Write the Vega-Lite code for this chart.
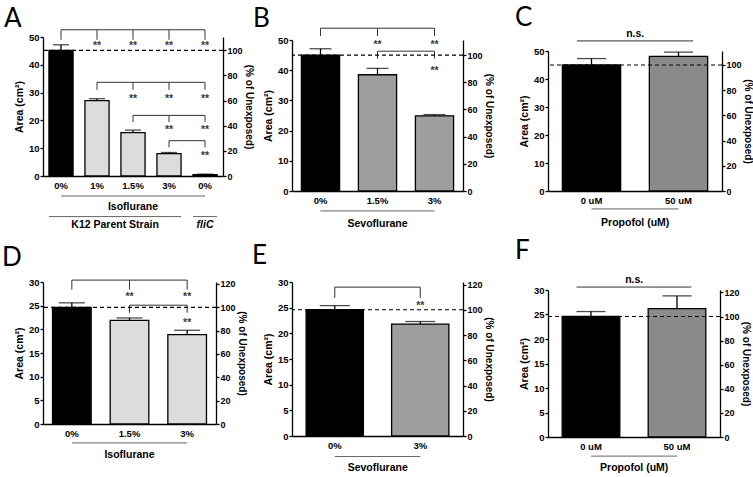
{
"$schema": "https://vega.github.io/schema/vega-lite/v6.json",
"background": "white",
"padding": {"left": 2, "top": 5, "right": 0, "bottom": 0},
"config": {
  "view": {"stroke": null},
  "font": "Liberation Sans",
  "axis": {"domainColor": "#000", "domainWidth": 1.3, "tickColor": "#000", "tickWidth": 1.3, "tickSize": 3, "labelColor": "#000", "labelFontSize": 9.5, "labelFontWeight": "bold", "titleFontSize": 10.5, "titleFontWeight": "bold", "titleColor": "#000", "grid": false, "labelPadding": 1, "titlePadding": 4},
  "axisRight": {"titlePadding": 1, "labelFontSize": 9, "titleFontSize": 10},
  "title": {"font": "Lato", "fontSize": 26, "fontWeight": "normal", "color": "#000", "anchor": "start", "frame": "group"}
},
"datasets": {
  "pA": [
    {"kind": "bar", "cond": "0%", "agent": "Control", "y": 45.2, "y2": 47.2},
    {"kind": "bar", "cond": "1%", "agent": "Isoflurane", "y": 27.1, "y2": 27.8},
    {"kind": "bar", "cond": "1.5%", "agent": "Isoflurane", "y": 15.6, "y2": 16.5},
    {"kind": "bar", "cond": "3%", "agent": "Isoflurane", "y": 8.05, "y2": 8.45},
    {"kind": "bar", "cond": "0% fliC", "agent": "fliC", "y": 0.5, "y2": 0.65},
    {"kind": "hline", "cond": "0%", "cond2": "0% fliC", "y": 52.6},
    {"kind": "hline", "cond": "1%", "cond2": "0% fliC", "y": 33.7},
    {"kind": "hline", "cond": "1.5%", "cond2": "0% fliC", "y": 21.8},
    {"kind": "hline", "cond": "3%", "cond2": "0% fliC", "y": 12.7},
    {"kind": "drop", "cond": "0%", "y": 52.6, "y2": 49.0},
    {"kind": "drop", "cond": "1%", "y": 52.6, "y2": 49.0},
    {"kind": "drop", "cond": "1.5%", "y": 52.6, "y2": 49.0},
    {"kind": "drop", "cond": "3%", "y": 52.6, "y2": 49.0},
    {"kind": "drop", "cond": "0% fliC", "y": 52.6, "y2": 49.0},
    {"kind": "drop", "cond": "1%", "y": 33.7, "y2": 31.0},
    {"kind": "drop", "cond": "1.5%", "y": 33.7, "y2": 31.0},
    {"kind": "drop", "cond": "3%", "y": 33.7, "y2": 31.0},
    {"kind": "drop", "cond": "0% fliC", "y": 33.7, "y2": 31.0},
    {"kind": "drop", "cond": "1.5%", "y": 21.8, "y2": 19.4},
    {"kind": "drop", "cond": "3%", "y": 21.8, "y2": 19.4},
    {"kind": "drop", "cond": "0% fliC", "y": 21.8, "y2": 19.4},
    {"kind": "drop", "cond": "3%", "y": 12.7, "y2": 10.3},
    {"kind": "drop", "cond": "0% fliC", "y": 12.7, "y2": 10.3},
    {"kind": "star", "cond": "1%", "y": 47.8},
    {"kind": "star", "cond": "1.5%", "y": 47.8},
    {"kind": "star", "cond": "3%", "y": 47.8},
    {"kind": "star", "cond": "0% fliC", "y": 47.8},
    {"kind": "star", "cond": "1.5%", "y": 28.8},
    {"kind": "star", "cond": "3%", "y": 28.8},
    {"kind": "star", "cond": "0% fliC", "y": 28.8},
    {"kind": "star", "cond": "3%", "y": 17.8},
    {"kind": "star", "cond": "0% fliC", "y": 17.8},
    {"kind": "star", "cond": "0% fliC", "y": 8.4},
    {"kind": "ul", "cond": "0%", "cond2": "0% fliC", "y": -7.2},
    {"kind": "ule", "cond": "0%", "cond2": "3%", "y": -14.6},
    {"kind": "ule", "cond": "0% fliC", "cond2": "0% fliC", "y": -14.6},
    {"kind": "lab", "cond": "1.5%", "y": -11.2, "text": "Isoflurane"},
    {"kind": "labmid", "cond": "1%", "y": -17.8, "text": "K12 Parent Strain"},
    {"kind": "labi", "cond": "0% fliC", "y": -17.8, "text": "fliC"}
  ],
  "pB": [
    {"kind": "bar", "cond": "0%", "agent": "Control", "y": 45.0, "y2": 47.1},
    {"kind": "bar", "cond": "1.5%", "agent": "Sevoflurane", "y": 38.5, "y2": 40.6},
    {"kind": "bar", "cond": "3%", "agent": "Sevoflurane", "y": 24.9, "y2": 25.3},
    {"kind": "hline", "cond": "0%", "cond2": "3%", "y": 53.9},
    {"kind": "hline", "cond": "1.5%", "cond2": "3%", "y": 46.3},
    {"kind": "drop", "cond": "0%", "y": 53.9, "y2": 51.3},
    {"kind": "drop", "cond": "1.5%", "y": 53.9, "y2": 51.3},
    {"kind": "drop", "cond": "3%", "y": 53.9, "y2": 51.3},
    {"kind": "drop", "cond": "1.5%", "y": 46.3, "y2": 43.8},
    {"kind": "drop", "cond": "3%", "y": 46.3, "y2": 43.8},
    {"kind": "star", "cond": "1.5%", "y": 49.4},
    {"kind": "star", "cond": "3%", "y": 49.4},
    {"kind": "star", "cond": "3%", "y": 40.6},
    {"kind": "ul", "cond": "0%", "cond2": "3%", "y": -6.6},
    {"kind": "lab", "cond": "1.5%", "y": -10.8, "text": "Sevoflurane"}
  ],
  "pC": [
    {"kind": "bar", "cond": "0 uM", "agent": "Control", "y": 45.0, "y2": 47.3},
    {"kind": "bar", "cond": "50 uM", "agent": "Propofol", "y": 48.1, "y2": 49.6},
    {"kind": "ns", "cond": "0 uM", "cond2": "50 uM", "y": 53.6},
    {"kind": "labmid", "cond": "0 uM", "y": 55.9, "text": "n.s."},
    {"kind": "ul", "cond": "0 uM", "cond2": "50 uM", "y": -6.4},
    {"kind": "labmid", "cond": "0 uM", "y": -11.6, "text": "Propofol (uM)"}
  ],
  "pD": [
    {"kind": "bar", "cond": "0%", "agent": "Control", "y": 24.65, "y2": 25.6},
    {"kind": "bar", "cond": "1.5%", "agent": "Isoflurane", "y": 21.9, "y2": 22.4},
    {"kind": "bar", "cond": "3%", "agent": "Isoflurane", "y": 18.9, "y2": 19.8},
    {"kind": "hline", "cond": "0%", "cond2": "3%", "y": 30.4},
    {"kind": "hline", "cond": "1.5%", "cond2": "3%", "y": 25.1},
    {"kind": "drop", "cond": "0%", "y": 30.4, "y2": 28.4},
    {"kind": "drop", "cond": "1.5%", "y": 30.4, "y2": 28.4},
    {"kind": "drop", "cond": "3%", "y": 30.4, "y2": 28.4},
    {"kind": "drop", "cond": "1.5%", "y": 25.1, "y2": 23.5},
    {"kind": "drop", "cond": "3%", "y": 25.1, "y2": 23.5},
    {"kind": "star", "cond": "1.5%", "y": 27.5},
    {"kind": "star", "cond": "3%", "y": 27.5},
    {"kind": "star", "cond": "3%", "y": 22.0},
    {"kind": "ul", "cond": "0%", "cond2": "3%", "y": -4.0},
    {"kind": "lab", "cond": "1.5%", "y": -6.5, "text": "Isoflurane"}
  ],
  "pE": [
    {"kind": "bar", "cond": "0%", "agent": "Control", "y": 24.6, "y2": 25.4},
    {"kind": "bar", "cond": "3%", "agent": "Sevoflurane", "y": 21.8, "y2": 22.3},
    {"kind": "hline", "cond": "0%", "cond2": "3%", "y": 29.0},
    {"kind": "drop", "cond": "0%", "y": 29.0, "y2": 26.9},
    {"kind": "drop", "cond": "3%", "y": 29.0, "y2": 26.9},
    {"kind": "star", "cond": "3%", "y": 25.9},
    {"kind": "ul", "cond": "0%", "cond2": "3%", "y": -4.0},
    {"kind": "labmid", "cond": "0%", "y": -6.2, "text": "Sevoflurane"}
  ],
  "pF": [
    {"kind": "bar", "cond": "0 uM", "agent": "Control", "y": 24.6, "y2": 25.6},
    {"kind": "bar", "cond": "50 uM", "agent": "Propofol", "y": 26.2, "y2": 28.8},
    {"kind": "ns", "cond": "0 uM", "cond2": "50 uM", "y": 30.6},
    {"kind": "labmid", "cond": "0 uM", "y": 32.0, "text": "n.s."},
    {"kind": "ul", "cond": "0 uM", "cond2": "50 uM", "y": -3.9},
    {"kind": "labmid", "cond": "0 uM", "y": -6.3, "text": "Propofol (uM)"}
  ]
},
"columns": 5,
"align": "each",
"bounds": "flush",
"spacing": {"row": 91, "column": 0},
"concat": [
  {
    "width": 180, "height": 139,
    "title": {"text": "A", "dx": -39, "offset": -3},
    "data": {"name": "pA"},
    "layer": [
      {
        "encoding": {
          "x": {"field": "cond", "type": "nominal", "scale": {"domain": ["0%", "1%", "1.5%", "3%", "0% fliC"], "paddingInner": 0.33, "paddingOuter": 0.165}, "axis": {"title": null, "ticks": false, "labelPadding": 4, "labelAngle": 0, "labelExpr": "split(datum.value, ' ')[0]"}},
          "y": {"field": "y", "type": "quantitative", "scale": {"domain": [0, 50], "nice": false}, "axis": {"title": "Area (cm²)", "values": [0, 10, 20, 30, 40, 50]}}
        },
        "layer": [
          {"transform": [{"filter": "datum.kind === 'bar'"}], "mark": {"type": "bar", "stroke": "#000", "strokeWidth": 1.3}, "encoding": {"color": {"field": "agent", "type": "nominal", "scale": {"domain": ["Control", "Isoflurane", "Sevoflurane", "Propofol", "fliC"], "range": ["#000000", "#dcdcdc", "#9e9e9e", "#8a8a8a", "#ffffff"]}, "legend": null}}},
          {"transform": [{"filter": "datum.kind === 'bar'"}], "mark": {"type": "rule", "color": "#000", "strokeWidth": 1.3}, "encoding": {"y2": {"field": "y2"}}},
          {"transform": [{"filter": "datum.kind === 'bar'"}], "mark": {"type": "tick", "color": "#000", "thickness": 1.3, "size": 16}, "encoding": {"y": {"field": "y2", "type": "quantitative"}}},
          {"transform": [{"filter": "datum.kind === 'hline'"}], "mark": {"type": "rule", "color": "#333", "strokeWidth": 1}, "encoding": {"x": {"field": "cond", "type": "nominal", "bandPosition": 0.5}, "x2": {"field": "cond2", "bandPosition": 0.5}}},
          {"transform": [{"filter": "datum.kind === 'drop'"}], "mark": {"type": "rule", "color": "#333", "strokeWidth": 1}, "encoding": {"y2": {"field": "y2"}}},
          {"transform": [{"filter": "datum.kind === 'star'"}], "mark": {"type": "text", "text": "**", "fontSize": 10.5, "fontWeight": "bold", "color": "#3a3a3a", "dy": 3}},
          {"transform": [{"filter": "datum.kind === 'ul'"}], "mark": {"type": "rule", "color": "#666", "strokeWidth": 1}, "encoding": {"x": {"field": "cond", "type": "nominal", "bandPosition": 0.5}, "x2": {"field": "cond2", "bandPosition": 0.5}}},
          {"transform": [{"filter": "datum.kind === 'ule'"}], "mark": {"type": "rule", "color": "#666", "strokeWidth": 1}, "encoding": {"x": {"field": "cond", "type": "nominal", "bandPosition": 0}, "x2": {"field": "cond2", "bandPosition": 1}}},
          {"transform": [{"filter": "datum.kind === 'lab'"}], "mark": {"type": "text", "fontSize": 10.5, "fontWeight": "bold", "color": "#000", "baseline": "middle"}, "encoding": {"text": {"field": "text"}}},
          {"transform": [{"filter": "datum.kind === 'labmid'"}], "mark": {"type": "text", "fontSize": 10.5, "fontWeight": "bold", "color": "#000", "baseline": "middle"}, "encoding": {"text": {"field": "text"}, "x": {"field": "cond", "type": "nominal", "bandPosition": 1.25}}},
          {"transform": [{"filter": "datum.kind === 'labi'"}], "mark": {"type": "text", "fontSize": 10.5, "fontWeight": "bold", "fontStyle": "italic", "color": "#000", "baseline": "middle"}, "encoding": {"text": {"field": "text"}}}
        ]
      },
      {
        "data": {"values": [{"pct": 100}]},
        "mark": {"type": "rule", "color": "#000", "strokeWidth": 1.2, "strokeDash": [4, 3]},
        "encoding": {"y": {"field": "pct", "type": "quantitative", "scale": {"domain": [0, 110.6], "nice": false}, "axis": {"orient": "right", "title": "(% of Unexposed)", "values": [0, 20, 40, 60, 80, 100]}}}
      }
    ],
    "resolve": {"scale": {"y": "independent"}}
  },
  {"width": 69, "height": 1, "data": {"values": []}, "mark": {"type": "point", "opacity": 0}},
  {
    "width": 171, "height": 154,
    "title": {"text": "B", "dx": -39, "offset": -4},
    "data": {"name": "pB"},
    "layer": [
      {
        "encoding": {
          "x": {"field": "cond", "type": "nominal", "scale": {"domain": ["0%", "1.5%", "3%"], "paddingInner": 0.33, "paddingOuter": 0.165}, "axis": {"title": null, "ticks": false, "labelPadding": 4, "labelAngle": 0}},
          "y": {"field": "y", "type": "quantitative", "scale": {"domain": [0, 50], "nice": false, "range": [154, 3]}, "axis": {"title": "Area (cm²)", "values": [0, 10, 20, 30, 40, 50]}}
        },
        "layer": [
          {"transform": [{"filter": "datum.kind === 'bar'"}], "mark": {"type": "bar", "stroke": "#000", "strokeWidth": 1.3}, "encoding": {"color": {"field": "agent", "type": "nominal", "legend": null}}},
          {"transform": [{"filter": "datum.kind === 'bar'"}], "mark": {"type": "rule", "color": "#000", "strokeWidth": 1.3}, "encoding": {"y2": {"field": "y2"}}},
          {"transform": [{"filter": "datum.kind === 'bar'"}], "mark": {"type": "tick", "color": "#000", "thickness": 1.3, "size": 22}, "encoding": {"y": {"field": "y2", "type": "quantitative"}}},
          {"transform": [{"filter": "datum.kind === 'hline'"}], "mark": {"type": "rule", "color": "#333", "strokeWidth": 1}, "encoding": {"x": {"field": "cond", "type": "nominal", "bandPosition": 0.5}, "x2": {"field": "cond2", "bandPosition": 0.5}}},
          {"transform": [{"filter": "datum.kind === 'drop'"}], "mark": {"type": "rule", "color": "#333", "strokeWidth": 1}, "encoding": {"y2": {"field": "y2"}}},
          {"transform": [{"filter": "datum.kind === 'star'"}], "mark": {"type": "text", "text": "**", "fontSize": 10.5, "fontWeight": "bold", "color": "#3a3a3a", "dy": 3}},
          {"transform": [{"filter": "datum.kind === 'ul'"}], "mark": {"type": "rule", "color": "#666", "strokeWidth": 1}, "encoding": {"x": {"field": "cond", "type": "nominal", "bandPosition": 0.5}, "x2": {"field": "cond2", "bandPosition": 0.5}}},
          {"transform": [{"filter": "datum.kind === 'lab'"}], "mark": {"type": "text", "fontSize": 10.5, "fontWeight": "bold", "color": "#000", "baseline": "middle"}, "encoding": {"text": {"field": "text"}}}
        ]
      },
      {
        "data": {"values": [{"pct": 100}]},
        "mark": {"type": "rule", "color": "#000", "strokeWidth": 1.2, "strokeDash": [4, 3]},
        "encoding": {"y": {"field": "pct", "type": "quantitative", "scale": {"domain": [0, 111.1], "nice": false, "range": [154, 3]}, "axis": {"orient": "right", "title": "(% of Unexposed)", "values": [0, 20, 40, 60, 80, 100]}}}
      }
    ],
    "resolve": {"scale": {"y": "independent"}}
  },
  {"width": 85, "height": 1, "data": {"values": []}, "mark": {"type": "point", "opacity": 0}},
  {
    "width": 174, "height": 154,
    "title": {"text": "C", "dx": -33, "offset": -2},
    "data": {"name": "pC"},
    "layer": [
      {
        "encoding": {
          "x": {"field": "cond", "type": "nominal", "scale": {"domain": ["0 uM", "50 uM"], "paddingInner": 0.33, "paddingOuter": 0.165}, "axis": {"title": null, "ticks": false, "labelPadding": 4, "labelAngle": 0}},
          "y": {"field": "y", "type": "quantitative", "scale": {"domain": [0, 50], "nice": false, "range": [154, 14]}, "axis": {"title": "Area (cm²)", "values": [0, 10, 20, 30, 40, 50]}}
        },
        "layer": [
          {"transform": [{"filter": "datum.kind === 'bar'"}], "mark": {"type": "bar", "stroke": "#000", "strokeWidth": 1.3}, "encoding": {"color": {"field": "agent", "type": "nominal", "legend": null}}},
          {"transform": [{"filter": "datum.kind === 'bar'"}], "mark": {"type": "rule", "color": "#000", "strokeWidth": 1.3}, "encoding": {"y2": {"field": "y2"}}},
          {"transform": [{"filter": "datum.kind === 'bar'"}], "mark": {"type": "tick", "color": "#000", "thickness": 1.3, "size": 29}, "encoding": {"y": {"field": "y2", "type": "quantitative"}}},
          {"transform": [{"filter": "datum.kind === 'ns'"}], "mark": {"type": "rule", "color": "#333", "strokeWidth": 1}, "encoding": {"x": {"field": "cond", "type": "nominal", "bandPosition": 0.25}, "x2": {"field": "cond2", "bandPosition": 0.75}}},
          {"transform": [{"filter": "datum.kind === 'ul'"}], "mark": {"type": "rule", "color": "#666", "strokeWidth": 1}, "encoding": {"x": {"field": "cond", "type": "nominal", "bandPosition": 0.5}, "x2": {"field": "cond2", "bandPosition": 0.5}}},
          {"transform": [{"filter": "datum.kind === 'labmid'"}], "mark": {"type": "text", "fontSize": 10.5, "fontWeight": "bold", "color": "#000", "baseline": "middle"}, "encoding": {"text": {"field": "text"}, "x": {"field": "cond", "type": "nominal", "bandPosition": 1.25}}}
        ]
      },
      {
        "data": {"values": [{"pct": 100}]},
        "mark": {"type": "rule", "color": "#000", "strokeWidth": 1.2, "strokeDash": [4, 3]},
        "encoding": {"y": {"field": "pct", "type": "quantitative", "scale": {"domain": [0, 111.1], "nice": false, "range": [154, 14]}, "axis": {"orient": "right", "title": "(% of Unexposed)", "values": [0, 20, 40, 60, 80, 100]}}}
      }
    ],
    "resolve": {"scale": {"y": "independent"}}
  },
  {
    "width": 173, "height": 142,
    "title": {"text": "D", "dx": -41, "offset": 6},
    "data": {"name": "pD"},
    "layer": [
      {
        "encoding": {
          "x": {"field": "cond", "type": "nominal", "scale": {"domain": ["0%", "1.5%", "3%"], "paddingInner": 0.33, "paddingOuter": 0.165}, "axis": {"title": null, "ticks": false, "labelPadding": 4, "labelAngle": 0}},
          "y": {"field": "y", "type": "quantitative", "scale": {"domain": [0, 30], "nice": false}, "axis": {"title": "Area (cm²)", "values": [0, 5, 10, 15, 20, 25, 30]}}
        },
        "layer": [
          {"transform": [{"filter": "datum.kind === 'bar'"}], "mark": {"type": "bar", "stroke": "#000", "strokeWidth": 1.3}, "encoding": {"color": {"field": "agent", "type": "nominal", "legend": null}}},
          {"transform": [{"filter": "datum.kind === 'bar'"}], "mark": {"type": "rule", "color": "#000", "strokeWidth": 1.3}, "encoding": {"y2": {"field": "y2"}}},
          {"transform": [{"filter": "datum.kind === 'bar'"}], "mark": {"type": "tick", "color": "#000", "thickness": 1.3, "size": 26}, "encoding": {"y": {"field": "y2", "type": "quantitative"}}},
          {"transform": [{"filter": "datum.kind === 'hline'"}], "mark": {"type": "rule", "color": "#333", "strokeWidth": 1}, "encoding": {"x": {"field": "cond", "type": "nominal", "bandPosition": 0.5}, "x2": {"field": "cond2", "bandPosition": 0.5}}},
          {"transform": [{"filter": "datum.kind === 'drop'"}], "mark": {"type": "rule", "color": "#333", "strokeWidth": 1}, "encoding": {"y2": {"field": "y2"}}},
          {"transform": [{"filter": "datum.kind === 'star'"}], "mark": {"type": "text", "text": "**", "fontSize": 10.5, "fontWeight": "bold", "color": "#3a3a3a", "dy": 3}},
          {"transform": [{"filter": "datum.kind === 'ul'"}], "mark": {"type": "rule", "color": "#666", "strokeWidth": 1}, "encoding": {"x": {"field": "cond", "type": "nominal", "bandPosition": 0.5}, "x2": {"field": "cond2", "bandPosition": 0.5}}},
          {"transform": [{"filter": "datum.kind === 'lab'"}], "mark": {"type": "text", "fontSize": 10.5, "fontWeight": "bold", "color": "#000", "baseline": "middle"}, "encoding": {"text": {"field": "text"}}}
        ]
      },
      {
        "data": {"values": [{"pct": 100}]},
        "mark": {"type": "rule", "color": "#000", "strokeWidth": 1.2, "strokeDash": [4, 3]},
        "encoding": {"y": {"field": "pct", "type": "quantitative", "scale": {"domain": [0, 121.7], "nice": false}, "axis": {"orient": "right", "title": "(% of Unexposed)", "values": [0, 20, 40, 60, 80, 100, 120]}}}
      }
    ],
    "resolve": {"scale": {"y": "independent"}}
  },
  {"width": 69, "height": 1, "data": {"values": []}, "mark": {"type": "point", "opacity": 0}},
  {
    "width": 171, "height": 154,
    "title": {"text": "E", "dx": -40, "offset": 8},
    "data": {"name": "pE"},
    "layer": [
      {
        "encoding": {
          "x": {"field": "cond", "type": "nominal", "scale": {"domain": ["0%", "3%"], "paddingInner": 0.33, "paddingOuter": 0.165}, "axis": {"title": null, "ticks": false, "labelPadding": 4, "labelAngle": 0}},
          "y": {"field": "y", "type": "quantitative", "scale": {"domain": [0, 30], "nice": false}, "axis": {"title": "Area (cm²)", "values": [0, 5, 10, 15, 20, 25, 30]}}
        },
        "layer": [
          {"transform": [{"filter": "datum.kind === 'bar'"}], "mark": {"type": "bar", "stroke": "#000", "strokeWidth": 1.3}, "encoding": {"color": {"field": "agent", "type": "nominal", "legend": null}}},
          {"transform": [{"filter": "datum.kind === 'bar'"}], "mark": {"type": "rule", "color": "#000", "strokeWidth": 1.3}, "encoding": {"y2": {"field": "y2"}}},
          {"transform": [{"filter": "datum.kind === 'bar'"}], "mark": {"type": "tick", "color": "#000", "thickness": 1.3, "size": 30}, "encoding": {"y": {"field": "y2", "type": "quantitative"}}},
          {"transform": [{"filter": "datum.kind === 'hline'"}], "mark": {"type": "rule", "color": "#333", "strokeWidth": 1}, "encoding": {"x": {"field": "cond", "type": "nominal", "bandPosition": 0.5}, "x2": {"field": "cond2", "bandPosition": 0.5}}},
          {"transform": [{"filter": "datum.kind === 'drop'"}], "mark": {"type": "rule", "color": "#333", "strokeWidth": 1}, "encoding": {"y2": {"field": "y2"}}},
          {"transform": [{"filter": "datum.kind === 'star'"}], "mark": {"type": "text", "text": "**", "fontSize": 10.5, "fontWeight": "bold", "color": "#3a3a3a", "dy": 3}},
          {"transform": [{"filter": "datum.kind === 'ul'"}], "mark": {"type": "rule", "color": "#666", "strokeWidth": 1}, "encoding": {"x": {"field": "cond", "type": "nominal", "bandPosition": 0.5}, "x2": {"field": "cond2", "bandPosition": 0.5}}},
          {"transform": [{"filter": "datum.kind === 'labmid'"}], "mark": {"type": "text", "fontSize": 10.5, "fontWeight": "bold", "color": "#000", "baseline": "middle"}, "encoding": {"text": {"field": "text"}, "x": {"field": "cond", "type": "nominal", "bandPosition": 1.25}}}
        ]
      },
      {
        "data": {"values": [{"pct": 100}]},
        "mark": {"type": "rule", "color": "#000", "strokeWidth": 1.2, "strokeDash": [4, 3]},
        "encoding": {"y": {"field": "pct", "type": "quantitative", "scale": {"domain": [0, 122.0], "nice": false}, "axis": {"orient": "right", "title": "(% of Unexposed)", "values": [0, 20, 40, 60, 80, 100, 120]}}}
      }
    ],
    "resolve": {"scale": {"y": "independent"}}
  },
  {"width": 85, "height": 1, "data": {"values": []}, "mark": {"type": "point", "opacity": 0}},
  {
    "width": 172, "height": 155,
    "title": {"text": "F", "dx": -33, "offset": 11},
    "data": {"name": "pF"},
    "layer": [
      {
        "encoding": {
          "x": {"field": "cond", "type": "nominal", "scale": {"domain": ["0 uM", "50 uM"], "paddingInner": 0.33, "paddingOuter": 0.165}, "axis": {"title": null, "ticks": false, "labelPadding": 4, "labelAngle": 0}},
          "y": {"field": "y", "type": "quantitative", "scale": {"domain": [0, 30], "nice": false, "range": [155, 8]}, "axis": {"title": "Area (cm²)", "values": [0, 5, 10, 15, 20, 25, 30]}}
        },
        "layer": [
          {"transform": [{"filter": "datum.kind === 'bar'"}], "mark": {"type": "bar", "stroke": "#000", "strokeWidth": 1.3}, "encoding": {"color": {"field": "agent", "type": "nominal", "legend": null}}},
          {"transform": [{"filter": "datum.kind === 'bar'"}], "mark": {"type": "rule", "color": "#000", "strokeWidth": 1.3}, "encoding": {"y2": {"field": "y2"}}},
          {"transform": [{"filter": "datum.kind === 'bar'"}], "mark": {"type": "tick", "color": "#000", "thickness": 1.3, "size": 29}, "encoding": {"y": {"field": "y2", "type": "quantitative"}}},
          {"transform": [{"filter": "datum.kind === 'ns'"}], "mark": {"type": "rule", "color": "#333", "strokeWidth": 1}, "encoding": {"x": {"field": "cond", "type": "nominal", "bandPosition": 0.25}, "x2": {"field": "cond2", "bandPosition": 0.75}}},
          {"transform": [{"filter": "datum.kind === 'ul'"}], "mark": {"type": "rule", "color": "#666", "strokeWidth": 1}, "encoding": {"x": {"field": "cond", "type": "nominal", "bandPosition": 0.5}, "x2": {"field": "cond2", "bandPosition": 0.5}}},
          {"transform": [{"filter": "datum.kind === 'labmid'"}], "mark": {"type": "text", "fontSize": 10.5, "fontWeight": "bold", "color": "#000", "baseline": "middle"}, "encoding": {"text": {"field": "text"}, "x": {"field": "cond", "type": "nominal", "bandPosition": 1.25}}}
        ]
      },
      {
        "data": {"values": [{"pct": 100}]},
        "mark": {"type": "rule", "color": "#000", "strokeWidth": 1.2, "strokeDash": [4, 3]},
        "encoding": {"y": {"field": "pct", "type": "quantitative", "scale": {"domain": [0, 122.0], "nice": false, "range": [155, 8]}, "axis": {"orient": "right", "title": "(% of Unexposed)", "values": [0, 20, 40, 60, 80, 100, 120]}}}
      }
    ],
    "resolve": {"scale": {"y": "independent"}}
  }
]
}
